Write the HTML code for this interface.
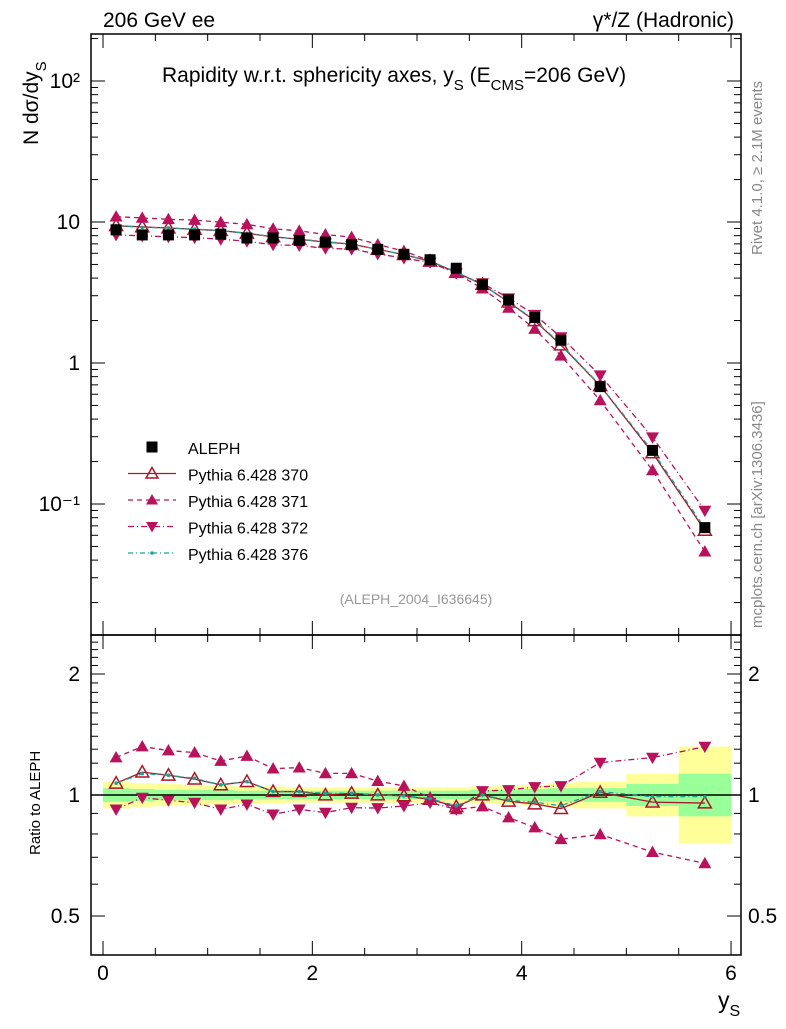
<!DOCTYPE html>
<html><head><meta charset="utf-8"><style>
body{margin:0;background:#fff;}
svg text{font-family:"Liberation Sans",sans-serif;}
</style></head><body>
<svg id="c" width="786" height="1024" viewBox="0 0 786 1024" xmlns="http://www.w3.org/2000/svg">
<g id="bands"></g>
<g id="axes"></g>
<g id="series"></g>
<text x="103" y="27" font-size="21">206 GeV ee</text>
<text x="734" y="27" font-size="21" text-anchor="end">γ*/Z (Hadronic)</text>
<text x="162" y="82" font-size="21">Rapidity w.r.t. sphericity axes, y<tspan font-size="15" dy="8">S</tspan><tspan dy="-8"> (E</tspan><tspan font-size="15" dy="8">CMS</tspan><tspan dy="-8">=206 GeV)</tspan></text>
<text transform="translate(38,145) rotate(-90)" font-size="21">N  dσ/dy<tspan font-size="15" dy="8">S</tspan></text>
<text transform="translate(40,855) rotate(-90)" font-size="15">Ratio to ALEPH</text>
<text x="718" y="1008" font-size="23">y<tspan font-size="16" dy="8">S</tspan></text>
<text transform="translate(762,255) rotate(-90)" font-size="15" fill="#888">Rivet 4.1.0, ≥ 2.1M events</text>
<text transform="translate(762,628) rotate(-90)" font-size="15" fill="#888">mcplots.cern.ch [arXiv:1306.3436]</text>
<text x="416" y="604" font-size="14" fill="#999" text-anchor="middle">(ALEPH_2004_I636645)</text>
<g id="legend"></g>
</svg>
<script>
const binLo = [0,0.25,0.5,0.75,1,1.25,1.5,1.75,2,2.25,2.5,2.75,3,3.25,3.5,3.75,4,4.25,4.5,5,5.5];
const binHi = [0.25,0.5,0.75,1,1.25,1.5,1.75,2,2.25,2.5,2.75,3,3.25,3.5,3.75,4,4.25,4.5,5,5.5,6];
const dataVals = [8.8,8.1,8.1,8.1,8.2,7.7,7.7,7.4,7.2,6.9,6.4,5.9,5.4,4.7,3.6,2.8,2.1,1.45,0.68,0.24,0.068];
const errTot = [0.08,0.07,0.065,0.06,0.055,0.05,0.05,0.045,0.045,0.045,0.045,0.045,0.045,0.045,0.05,0.055,0.06,0.07,0.08,0.13,0.32];
const errStat = [0.04,0.035,0.03,0.03,0.03,0.025,0.025,0.025,0.025,0.025,0.025,0.025,0.025,0.025,0.03,0.03,0.035,0.04,0.04,0.065,0.13];
const ratio370 = [1.07,1.14,1.12,1.095,1.06,1.08,1.02,1.02,1.0,1.01,1.0,0.995,0.975,0.935,1.0,0.965,0.95,0.925,1.015,0.96,0.955];
const ratio371 = [1.24,1.32,1.29,1.275,1.215,1.25,1.163,1.17,1.132,1.132,1.083,1.053,0.985,0.921,0.936,0.879,0.83,0.776,0.798,0.721,0.676];
const ratio372 = [0.921,0.985,0.97,0.957,0.921,0.948,0.895,0.921,0.904,0.93,0.928,0.939,0.957,0.921,1.023,1.029,1.047,1.053,1.204,1.239,1.319];
const ratio376 = [1.07,1.13,1.12,1.1,1.06,1.08,1.02,1.02,1.01,1.01,1.0,0.995,0.98,0.94,1.0,0.97,0.96,0.94,1.02,0.99,0.99];
const xTicks = [0,2,4,6];
const mainTickLabels = ["10\u207B\u00B9","1","10","10\u00B2"];
const mainTickVals = [0.1,1,10,100];
const ratioTickVals = [0.5,1,2];
const ratioTickLabels = ["0.5","1","2"];

const NS="http://www.w3.org/2000/svg";
const L=91,R=741,T=34,MB=635,RB=955;
const X=v=>103+v*104.67;
const Y=v=>222-141*Math.log10(v/10);
const YR=v=>795-402*Math.log10(v);
function mk(tag,attrs,parent){const e=document.createElementNS(NS,tag);for(const k in attrs)e.setAttribute(k,attrs[k]);parent.appendChild(e);return e;}
const ax=document.getElementById('axes'),bands=document.getElementById('bands'),ser=document.getElementById('series'),leg=document.getElementById('legend');

for(let i=0;i<binLo.length;i++){
  let r=mk('rect',{x:X(binLo[i]),y:YR(1+errTot[i]),width:X(binHi[i])-X(binLo[i]),height:YR(1/(1+errTot[i]))-YR(1+errTot[i]),fill:'#ffff99'},bands);
  
  
}
for(let i=0;i<binLo.length;i++){
  let r=mk('rect',{x:X(binLo[i]),y:YR(1+errStat[i]),width:X(binHi[i])-X(binLo[i]),height:YR(1/(1+errStat[i]))-YR(1+errStat[i]),fill:'#99ff99'},bands);
  
  
}
mk('line',{x1:L,x2:R,y1:YR(1),y2:YR(1),stroke:'#000','stroke-width':1.5},ax);

mk('rect',{x:L,y:T,width:R-L,height:MB-T,fill:'none',stroke:'#000','stroke-width':1.5},ax);
mk('rect',{x:L,y:MB,width:R-L,height:RB-MB,fill:'none',stroke:'#000','stroke-width':1.5},ax);
for(let v=0;v<=6.001;v+=0.5){
  const maj=Math.abs(v-Math.round(v/2)*2)<1e-6;const len=maj?14:7;const x=X(v);
  for(const [y,d] of [[T,1],[MB,-1],[MB,1],[RB,-1]]) mk('line',{x1:x,x2:x,y1:y,y2:y+d*len,stroke:'#000','stroke-width':1},ax);
}
xTicks.forEach(v=>{const t=mk('text',{x:X(v),y:980,'font-size':21,'text-anchor':'middle'},ax);t.textContent=v;

});
for(let d=-2;d<=2;d++){for(let m=1;m<=9;m++){const v=m*Math.pow(10,d);const y=Y(v);if(y<T||y>MB)continue;const len=m==1?14:7;
mk('line',{x1:L,x2:L+len,y1:y,y2:y,stroke:'#000'},ax);mk('line',{x1:R,x2:R-len,y1:y,y2:y,stroke:'#000'},ax);}}
mainTickVals.forEach((v,i)=>{const t=mk('text',{x:80,y:Y(v)+7,'font-size':21,'text-anchor':'end'},ax);t.textContent=mainTickLabels[i];

});
for(let v=0.4;v<=2.55;v+=0.1){const y=YR(v);if(y<MB||y>RB)continue;const maj=[0.5,1,2].some(q=>Math.abs(q-v)<1e-6);const len=maj?14:7;
mk('line',{x1:L,x2:L+len,y1:y,y2:y,stroke:'#000'},ax);mk('line',{x1:R,x2:R-len,y1:y,y2:y,stroke:'#000'},ax);}
ratioTickVals.forEach((v,i)=>{for(const [x,a] of [[80,'end'],[748,'start']]){const t=mk('text',{x:x,y:YR(v)+7,'font-size':21,'text-anchor':a},ax);t.textContent=ratioTickLabels[i];

}});

const cx=binLo.map((l,i)=>(l+binHi[i])/2);
function marker(type,x,y,col,g,s){
  if(type=='sq') return mk('rect',{x:x-5.5,y:y-5.5,width:11,height:11,fill:'#000'},g);
  if(type=='up') return mk('polygon',{points:`${x},${y-s} ${x-s},${y+s*0.75} ${x+s},${y+s*0.75}`,fill:col},g);
  if(type=='open') return mk('polygon',{points:`${x},${y-s} ${x-s},${y+s*0.75} ${x+s},${y+s*0.75}`,fill:'none',stroke:col,'stroke-width':1.5},g);
  if(type=='down') return mk('polygon',{points:`${x},${y+s} ${x-s},${y-s*0.75} ${x+s},${y-s*0.75}`,fill:col},g);
  if(type=='dot') return mk('circle',{cx:x,cy:y,r:1.8,fill:col},g);
}
const series=[
 {name:'pythia-370',r:ratio370,col:'#a8162a',dash:'',m:'open'},
 {name:'pythia-371',r:ratio371,col:'#b8135a',dash:'5,4',m:'up'},
 {name:'pythia-372',r:ratio372,col:'#b8135a',dash:'6,3,1,3',m:'down'},
 {name:'pythia-376',r:ratio376,col:'#17a394',dash:'5,3,1,3',m:'dot'}];
series.forEach(s=>{
  const g=mk('g',{},ser);
  
  
  const ptsM=cx.map((x,i)=>X(x)+','+Y(dataVals[i]*s.r[i])).join(' ');
  const ptsR=cx.map((x,i)=>X(x)+','+YR(s.r[i])).join(' ');
  mk('polyline',{points:ptsM,fill:'none',stroke:s.col,'stroke-width':1.3,'stroke-dasharray':s.dash},g);
  mk('polyline',{points:ptsR,fill:'none',stroke:s.col,'stroke-width':1.3,'stroke-dasharray':s.dash},g);
  cx.forEach((x,i)=>{
    const a=marker(s.m,X(x),Y(dataVals[i]*s.r[i]),s.col,g,6.5);
    
    
    const b=marker(s.m,X(x),YR(s.r[i]),s.col,g,6.5);
    
    
  });
});
const gd=mk('g',{},ser);


cx.forEach((x,i)=>{const m=marker('sq',X(x),Y(dataVals[i]),'#000',gd);

});
const legItems=[['ALEPH','#000','','sq'],['Pythia 6.428 370','#a8162a','','open'],['Pythia 6.428 371','#b8135a','5,4','up'],['Pythia 6.428 372','#b8135a','6,3,1,3','down'],['Pythia 6.428 376','#17a394','5,3,1,3','dot']];
legItems.forEach((it,i)=>{const y=447+i*26.5;const g=mk('g',{},leg);


if(it[3]!='sq') mk('line',{x1:128,x2:176,y1:y,y2:y,stroke:it[1],'stroke-width':1.3,'stroke-dasharray':it[2]},g);
marker(it[3],152,y,it[1],g,6);
const t=mk('text',{x:188,y:y+7,'font-size':16},g);t.textContent=it[0];});
</script>
</body></html>
